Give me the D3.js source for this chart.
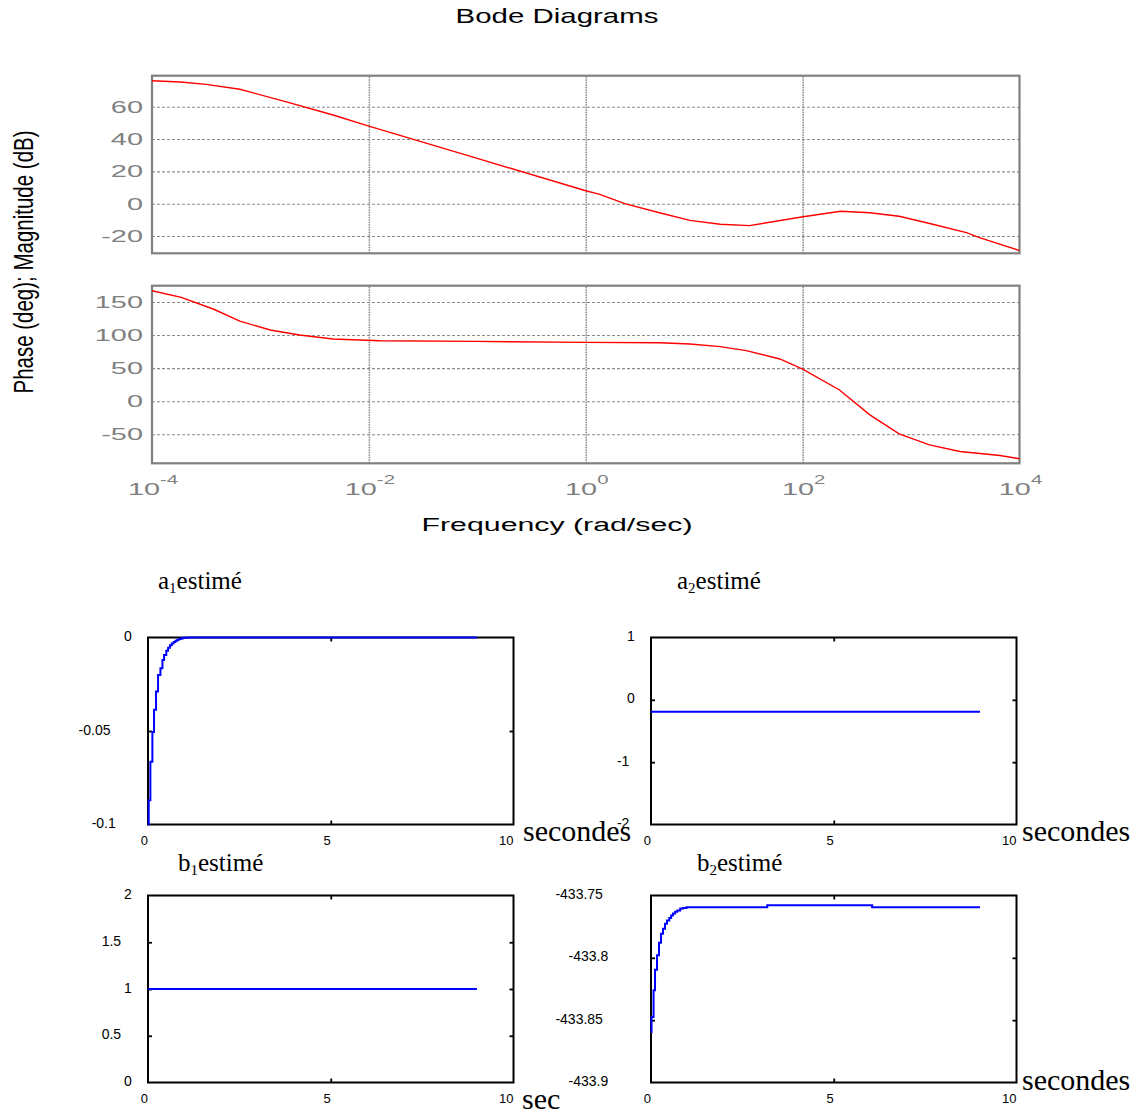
<!DOCTYPE html>
<html>
<head>
<meta charset="utf-8">
<script src="https://cdn.jsdelivr.net/npm/d3@7/dist/d3.min.js"></script>
<style>
  html, body { margin: 0; padding: 0; background: #fff; }
  svg { display: block; }
</style>
</head>
<body>
<svg id="fig" width="1140" height="1115"></svg>
<script>
// ---- Bode diagram data (frequency given as log10 of rad/sec) ----
const magExp   = [-4, -3.74, -3.5, -3.19, -2.76, -2.33, -2, -1, 0, 0.13, 0.36, 0.68, 0.96, 1.24, 1.51, 1.99, 2.35, 2.62, 2.89, 3.2, 3.51, 3.63, 4];
const magDb    = [76.1, 75.3, 73.8, 70.8, 63, 54.9, 48, 28, 8, 5.8, 0, -5.6, -10.3, -12.7, -13.6, -8.2, -4.7, -5.6, -7.8, -12.7, -17.9, -21, -29];
const phaseExp = [-4, -3.73, -3.43, -3.19, -2.91, -2.64, -2.33, -1.9, -1, 0, 0.68, 0.96, 1.24, 1.48, 1.79, 2, 2.34, 2.62, 2.89, 3.17, 3.45, 3.82, 4];
const phaseDeg = [167, 157, 139, 121, 107.6, 100, 94, 91.4, 90.4, 89, 88.4, 86.5, 82.5, 76.4, 63.9, 48.4, 17, -20.6, -49.4, -66, -76, -82, -87];
const magTicks   = [-20, 0, 20, 40, 60];
const phaseTicks = [-50, 0, 50, 100, 150];
const freqTickExp = [-4, -2, 0, 2, 4];

// ---- Parameter estimates vs time (seconds) ----
const a1Time  = [0, 0.02, 0.065, 0.12, 0.165, 0.22, 0.275, 0.34, 0.395, 0.44, 0.5, 0.55, 0.6, 0.65, 0.7, 0.75, 0.8, 0.85, 0.9, 0.95, 1.0, 1.1, 9.0];
const a1Value = [-0.1, -0.087, -0.0665, -0.0505, -0.0387, -0.0289, -0.02, -0.0164, -0.012, -0.0093, -0.0071, -0.0055, -0.0042, -0.0032, -0.0024, -0.0017, -0.0012, -0.0008, -0.0005, -0.0003, -0.0001, 0, 0];
const a2Time  = [0, 9.0];
const a2Value = [-0.19, -0.19];
const b1Time  = [0, 9.0];
const b1Value = [1, 1];
const b2Time  = [0, 0.015, 0.07, 0.11, 0.164, 0.219, 0.274, 0.328, 0.383, 0.438, 0.5, 0.55, 0.6, 0.66, 0.72, 0.8, 0.88, 0.97, 3.18, 6.05, 9.0];
const b2Value = [-433.8595, -433.8475, -433.826, -433.8095, -433.798, -433.788, -433.7807, -433.7767, -433.7727, -433.770, -433.768, -433.766, -433.7645, -433.763, -433.762, -433.7605, -433.760, -433.7594, -433.7578, -433.7594, -433.7594];

const a1Ticks = [-0.1, -0.05, 0];
const a2Ticks = [-2, -1, 0, 1];
const b1Ticks = [0, 0.5, 1, 1.5, 2];
const b2Ticks = [-433.9, -433.85, -433.8, -433.75];
const timeTicks = [0, 5, 10];

const svg = d3.select("#fig");
svg.append("rect").attr("width", 1140).attr("height", 1115).attr("fill", "#fff");

const SANS = "'Liberation Sans', Arial, Helvetica, sans-serif";
const SERIF = "'Liberation Serif', 'Times New Roman', serif";
const GREY = "#808080";

// Horizontally stretched text: natural glyphs scaled to a width factor.
function wideText(parent, x, y, str, size, kx, anchor, fill) {
  const g = parent.append("g").attr("transform", `translate(${x},${y}) scale(${kx},1)`);
  return g.append("text").attr("x", 0).attr("y", 0)
    .attr("font-family", SANS).attr("font-size", size)
    .attr("text-anchor", anchor).attr("fill", fill).text(str);
}
// Text fitted to a given width by horizontal scaling.
function fitText(parent, cx, y, str, size, width, fill) {
  const g = parent.append("g");
  const t = g.append("text").attr("font-family", SANS).attr("font-size", size)
    .attr("text-anchor", "middle").attr("fill", fill).text(str);
  const w = t.node().getComputedTextLength();
  g.attr("transform", `translate(${cx},${y}) scale(${width / w},1)`);
  return t;
}

// ================= Bode diagrams =================
const bode = svg.append("g");
const xF = d3.scaleLog().domain([1e-4, 1e4]).range([152, 1019.5]);

const panels = [
  { exp: magExp, val: magDb, ticks: magTicks, domain: [-30.7, 79.2], top: 75.7, bottom: 253.3 },
  { exp: phaseExp, val: phaseDeg, ticks: phaseTicks, domain: [-93.8, 174.6], top: 285.7, bottom: 463.3 }
];

panels.forEach(p => {
  const y = d3.scaleLinear().domain(p.domain).range([p.bottom, p.top]);
  const g = bode.append("g");

  // horizontal grid
  g.append("g").attr("transform", `translate(${xF.range()[0]},0)`)
    .call(d3.axisLeft(y).tickValues(p.ticks).tickSize(-(xF.range()[1] - xF.range()[0])).tickFormat(""))
    .call(a => a.select(".domain").remove())
    .call(a => a.selectAll("line").attr("stroke", "#8a8a8a").attr("stroke-width", 1.1).attr("stroke-dasharray", "3,2"));

  // vertical grid at inner decades
  g.append("g").attr("transform", `translate(0,${p.bottom})`)
    .call(d3.axisBottom(xF).tickValues([1e-2, 1, 1e2]).tickSize(-(p.bottom - p.top)).tickFormat(""))
    .call(a => a.select(".domain").remove())
    .call(a => a.selectAll("line").attr("stroke", "#8a8a8a").attr("stroke-width", 1.6).attr("stroke-dasharray", "1.5,1"));

  // frame
  g.append("rect").attr("x", xF.range()[0]).attr("y", p.top)
    .attr("width", xF.range()[1] - xF.range()[0]).attr("height", p.bottom - p.top)
    .attr("fill", "none").attr("stroke", GREY).attr("stroke-width", 2.2);

  // y tick labels
  p.ticks.forEach(v => wideText(g, 143, y(v) + 6, String(v), 17, 1.7, "end", GREY));

  // response curve
  const pts = p.exp.map((e, i) => [Math.pow(10, e), p.val[i]]);
  g.append("path").datum(pts)
    .attr("d", d3.line().x(d => xF(d[0])).y(d => y(d[1])))
    .attr("fill", "none").attr("stroke", "#ff0000").attr("stroke-width", 1.4);
});

// decade labels 10^n
freqTickExp.forEach(e => {
  const gx = bode.append("g").attr("transform", `translate(${xF(Math.pow(10, e)) + 1},495) scale(1.7,1)`);
  const t = gx.append("text").attr("font-family", SANS).attr("font-size", 17)
    .attr("text-anchor", "middle").attr("fill", GREY);
  t.append("tspan").text("10");
  t.append("tspan").attr("dy", -11).attr("font-size", 12).text(String(e));
});

fitText(bode, 557, 23, "Bode Diagrams", 19.5, 203, "#000");
fitText(bode, 557, 531, "Frequency (rad/sec)", 18, 271, "#000");

// rotated y label
bode.append("g").attr("transform", "translate(33,262) scale(1.36,1) rotate(-90)")
  .append("text").attr("font-family", SANS).attr("font-size", 20.5)
  .attr("text-anchor", "middle").attr("fill", "#000")
  .text("Phase (deg); Magnitude (dB)");

// ================= Parameter estimate panels =================
const W = 365.5, H = 187;
const est = [
  { sym: "a", sub: "1", time: a1Time, val: a1Value, ticks: a1Ticks, left: 148, top: 637.5, tx: 158, ty: 589 },
  { sym: "a", sub: "2", time: a2Time, val: a2Value, ticks: a2Ticks, left: 651, top: 637.5, tx: 677, ty: 589 },
  { sym: "b", sub: "1", time: b1Time, val: b1Value, ticks: b1Ticks, left: 148, top: 895.5, tx: 178, ty: 871 },
  { sym: "b", sub: "2", time: b2Time, val: b2Value, ticks: b2Ticks, left: 651, top: 895.5, tx: 697, ty: 871 }
];

est.forEach(p => {
  const g = svg.append("g");
  const x = d3.scaleLinear().domain([0, 10]).range([p.left, p.left + W]);
  const y = d3.scaleLinear().domain(d3.extent(p.ticks)).range([p.top + H, p.top]);

  // inward tick marks (top/bottom for time, left/right for value)
  const innerX = timeTicks.slice(1, -1);
  const innerY = p.ticks.slice(1, -1);
  g.append("g").attr("transform", `translate(0,${p.top + H})`)
    .call(d3.axisBottom(x).tickValues(innerX).tickSize(-4).tickFormat(""))
    .call(a => a.select(".domain").remove());
  g.append("g").attr("transform", `translate(0,${p.top})`)
    .call(d3.axisTop(x).tickValues(innerX).tickSize(-4).tickFormat(""))
    .call(a => a.select(".domain").remove());
  g.append("g").attr("transform", `translate(${p.left},0)`)
    .call(d3.axisLeft(y).tickValues(innerY).tickSize(-4).tickFormat(""))
    .call(a => a.select(".domain").remove());
  g.append("g").attr("transform", `translate(${p.left + W},0)`)
    .call(d3.axisRight(y).tickValues(innerY).tickSize(-4).tickFormat(""))
    .call(a => a.select(".domain").remove());
  g.selectAll(".tick line").attr("stroke", "#000").attr("stroke-width", 1.8);

  // frame
  g.append("rect").attr("x", p.left).attr("y", p.top).attr("width", W).attr("height", H)
    .attr("fill", "none").attr("stroke", "#000").attr("stroke-width", 2);

  // time labels, right-aligned at their tick
  timeTicks.forEach(v => g.append("text").attr("x", x(v)).attr("y", p.top + H + 20)
    .attr("font-family", SANS).attr("font-size", 13).attr("text-anchor", "end")
    .attr("fill", "#000").text(String(v)));

  // value labels
  p.ticks.forEach(v => {
    const s = String(v);
    g.append("text").attr("x", p.left - (11 + 5.3 * s.length)).attr("y", y(v) + 3.5)
      .attr("font-family", SANS).attr("font-size", 14).attr("text-anchor", "end")
      .attr("fill", "#000").text(s);
  });

  // estimate trajectory
  const pts = p.time.map((t, i) => [t, p.val[i]]);
  g.append("path").datum(pts)
    .attr("d", d3.line().curve(d3.curveStepAfter).x(d => x(d[0])).y(d => y(d[1])))
    .attr("fill", "none").attr("stroke", "#0000ff").attr("stroke-width", 2);

  // title with subscript
  const t = g.append("text").attr("x", p.tx).attr("y", p.ty)
    .attr("font-family", SERIF).attr("font-size", 25).attr("fill", "#000");
  t.append("tspan").text(p.sym);
  t.append("tspan").attr("font-size", 15).attr("dy", 4).text(p.sub);
  t.append("tspan").attr("dy", -4).text("estimé");
});

// time unit captions
const units = [
  { x: 523, y: 841, s: "secondes" },
  { x: 1022, y: 841, s: "secondes" },
  { x: 522, y: 1109, s: "sec" },
  { x: 1022, y: 1090, s: "secondes" }
];
units.forEach(u => svg.append("text").attr("x", u.x).attr("y", u.y)
  .attr("font-family", SERIF).attr("font-size", 30).attr("fill", "#000").text(u.s));
</script>
</body>
</html>
